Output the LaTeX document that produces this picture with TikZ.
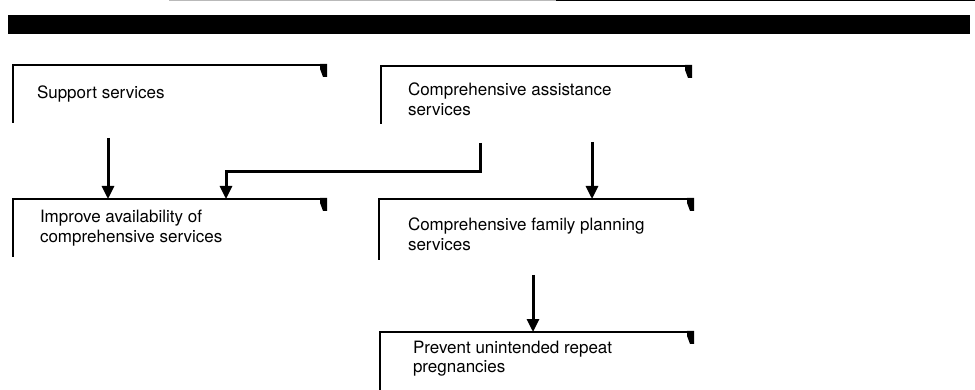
\documentclass[tikz,border=0pt]{standalone}
\usepackage{fontspec}
\setmainfont{TeX Gyre Heros}
\usetikzlibrary{arrows.meta,calc}
\begin{document}
\begin{tikzpicture}[x=1pt,y=-1pt,
  frame/.style={draw=none,inner sep=0pt,outer sep=0pt,anchor=north west},
  rimtop/.style={line width=2.2pt,line cap=rect},
  rimside/.style={line width=2.8pt,line cap=rect},
  flow/.style={line width=3pt,-{Triangle[length=13pt,width=12pt]}},
  txt/.style={anchor=base west,inner sep=0pt,outer sep=0pt,align=left,font=\fontsize{17}{19.5}\selectfont},
  bar/.style={fill=black,draw=none,inner sep=0pt,outer sep=0pt,anchor=north west}
]
\useasboundingbox (0,0) rectangle (975,390);
% header bar and scan edge
\node[bar,minimum width=962pt,minimum height=19pt] (hdr) at (8,15) {};
\coordinate (e0) at (169,0.6);
\coordinate (e1) at (556,0.6);
\coordinate (e2) at (975,0.6);
\draw[gray!55,line width=1.1pt] (e0) -- (e1);
\draw[line width=1.3pt] (e1) -- (e2);

% open boxes
\node[frame,minimum width=312pt,minimum height=57pt] (b1) at (13,65) {};
\node[frame,minimum width=309pt,minimum height=57pt] (b2) at (381,66) {};
\node[frame,minimum width=312pt,minimum height=57pt] (b3) at (13,199) {};
\node[frame,minimum width=313pt,minimum height=60pt] (b4) at (379,199) {};
\node[frame,minimum width=312pt,minimum height=58pt] (b5) at (380,332) {};
\foreach \b in {b1,b2,b3,b4,b5}{
  \draw[rimside] (\b.south west) -- (\b.north west);
  \draw[rimtop] (\b.north west) -- (\b.north east);
  \fill (\b.north east) ++(-5,-1.1) -- ++(7,0) -- ++(0,13) -- ++(-4,0) -- ++(-3,-8) -- cycle;
}

% texts (base = baseline of the last line)
\node[txt] (t1) at (37,99) {Support services};
\node[txt] (t2) at (408,115.5) {Comprehensive assistance\\services};
\node[txt] (t3) at (40,242.5) {Improve availability of\\comprehensive services};
\node[txt] (t4) at (408,250.5) {Comprehensive family planning\\services};
\node[txt] (t5) at (413,372.5) {Prevent unintended repeat\\pregnancies};

% connectors
\coordinate (s1) at (108,138);
\coordinate (s2) at (480,143);
\coordinate (k2) at (480,172);
\coordinate (m2) at (226,172);
\coordinate (s3) at (592,142);
\coordinate (s4) at (533,275);
\draw[flow] (s1) -- (s1 |- b3.north);
\draw[flow,line join=miter] (s2) -- (k2) -- (m2) -- (m2 |- b3.north);
\draw[flow] (s3) -- (s3 |- b4.north);
\draw[flow] (s4) -- (s4 |- b5.north);
\end{tikzpicture}
\end{document}
